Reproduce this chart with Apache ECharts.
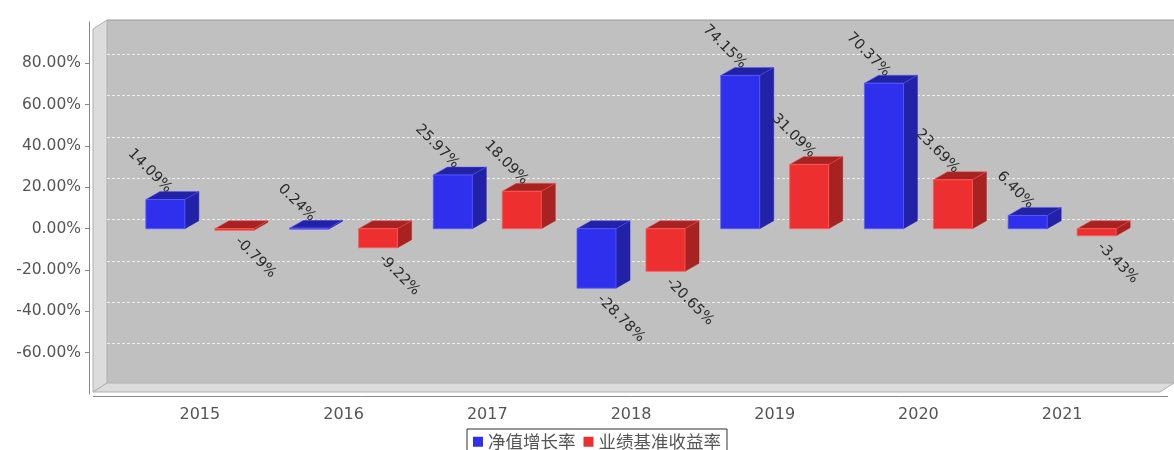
<!DOCTYPE html>
<html>
<head>
<meta charset="utf-8">
<script src="https://cdn.jsdelivr.net/npm/echarts@6/dist/echarts.min.js"></script>
<style>
  html, body { margin: 0; padding: 0; background: #fff; }
  #chart { width: 1174px; height: 450px; }
</style>
</head>
<body>
<div id="chart"></div>
<script>
  // 数据
  var years = ['2015', '2016', '2017', '2018', '2019', '2020', '2021'];
  var navGrowth = [14.09, 0.24, 25.97, -28.78, 74.15, 70.37, 6.40];      // 净值增长率
  var benchReturn = [-0.79, -9.22, 18.09, -20.65, 31.09, 23.69, -3.43];  // 业绩基准收益率
  var yTicks = [-60, -40, -20, 0, 20, 40, 60, 80];

  var seriesNames = ['净值增长率', '业绩基准收益率'];
  var frontColors = ['#2f2fee', '#ee2f2f'];
  var darkColors = ['#2222a8', '#a82222'];
  var edgeColors = ['#5a5aff', '#ff5a5a'];

  var DX = 14, DY = 8;
  var FONT = '14.5px "DejaVu Sans", sans-serif';

  function fmt(v) { return v.toFixed(2) + '%'; }

  function renderBar(params, api) {
    var s = params.seriesIndex;
    var idx = api.value(0), v = api.value(1);
    var base = api.coord([idx, 0]);
    var top = api.coord([idx, v]);
    var band = api.size([1, 0])[0];
    var w = band * 0.2715;
    var cx = base[0] + band * 0.24 * (s === 0 ? -1 : 1);
    var x0 = cx - w / 2, x1 = cx + w / 2;
    var yHi = Math.min(base[1], top[1]);
    var yLo = Math.max(base[1], top[1]);
    if (yLo - yHi < 1) yLo = yHi + 1;

    var label;
    if (v >= 0) {
      label = {
        type: 'text', x: cx + 4, y: yHi - 9, rotation: -Math.PI / 4,
        style: { text: fmt(v), align: 'right', verticalAlign: 'middle', fill: '#2a2a2a', font: FONT }
      };
    } else {
      label = {
        type: 'text', x: cx + 3, y: yLo + 9, rotation: -Math.PI / 4,
        style: { text: fmt(v), align: 'left', verticalAlign: 'middle', fill: '#2a2a2a', font: FONT }
      };
    }

    return {
      type: 'group',
      children: [
        {
          type: 'polygon',
          shape: { points: [[x1, yHi], [x1 + DX, yHi - DY], [x1 + DX, yLo - DY], [x1, yLo]] },
          style: { fill: darkColors[s], stroke: darkColors[s], lineWidth: 0.5 }
        },
        {
          type: 'polygon',
          shape: { points: [[x0, yHi], [x1, yHi], [x1 + DX, yHi - DY], [x0 + DX, yHi - DY]] },
          style: { fill: darkColors[s], stroke: edgeColors[s], lineWidth: 0.5 }
        },
        {
          type: 'rect',
          shape: { x: x0, y: yHi, width: w, height: yLo - yHi },
          style: { fill: frontColors[s], stroke: edgeColors[s], lineWidth: 0.8 }
        },
        label
      ]
    };
  }

  var chart = echarts.init(document.getElementById('chart'));

  var option = {
    animation: false,
    backgroundColor: '#fff',
    color: frontColors,
    grid: [
      { left: 128, right: 40, top: 22, bottom: 56 },
      { left: 107, right: 0, top: 13, bottom: 65 }
    ],
    legend: {
      data: seriesNames,
      left: 467, top: 429,
      icon: 'rect', itemWidth: 10, itemHeight: 10, itemGap: 8,
      padding: [4, 6], borderColor: '#333', borderWidth: 1,
      textStyle: { color: '#555', fontSize: 17.5, fontFamily: 'Noto Sans CJK SC' }
    },
    graphic: [
      { type: 'rect', z: -10, shape: { x: 107, y: 20, width: 1067, height: 363 }, style: { fill: '#c0c0c0' } },
      { type: 'polygon', z: -10, shape: { points: [[93, 29], [107, 20], [107, 383], [93, 392]] }, style: { fill: '#dcdcdc', stroke: '#b0b0b0', lineWidth: 1 } },
      { type: 'polygon', z: -10, shape: { points: [[93, 392], [107, 383], [1174, 383], [1160, 392]] }, style: { fill: '#dcdcdc', stroke: '#b0b0b0', lineWidth: 1 } },
      { type: 'line', z: -9, shape: { x1: 107, y1: 20, x2: 1174, y2: 20 }, style: { stroke: '#999', lineWidth: 1 } },
      { type: 'line', z: -9, shape: { x1: 93, y1: 396.5, x2: 1168, y2: 396.5 }, style: { stroke: '#888', lineWidth: 1 } }
    ],
    xAxis: [
      {
        type: 'category', gridIndex: 0, data: years, offset: 4,
        axisLine: { show: false },
        axisTick: { alignWithLabel: true, length: 3, lineStyle: { color: '#888' } },
        axisLabel: { color: '#555', fontSize: 16, fontFamily: 'DejaVu Sans', margin: 9 },
        splitLine: { show: false }
      },
      { type: 'value', gridIndex: 1, show: false, min: 0, max: 1 }
    ],
    yAxis: [
      {
        type: 'value', gridIndex: 0, min: -80, max: 100, interval: 20, offset: 39,
        axisLine: { show: true, lineStyle: { color: '#888' } },
        axisTick: { show: true, length: 4, customValues: yTicks, lineStyle: { color: '#888' } },
        axisLabel: {
          color: '#555', fontSize: 15.5, fontFamily: 'DejaVu Sans', margin: 8,
          customValues: yTicks,
          formatter: function (v) { return v.toFixed(2) + '%'; }
        },
        splitLine: { show: false }
      },
      {
        type: 'value', gridIndex: 1, min: -80, max: 100, interval: 20,
        axisLine: { show: false }, axisTick: { show: false }, axisLabel: { show: false },
        splitLine: { show: true, showMinLine: false, showMaxLine: false, lineStyle: { color: '#eeeeee', type: [3, 2], width: 1 } }
      }
    ],
    series: [
      {
        name: seriesNames[0], type: 'custom', xAxisIndex: 0, yAxisIndex: 0, clip: false,
        renderItem: renderBar,
        data: navGrowth.map(function (v, i) { return [i, v]; })
      },
      {
        name: seriesNames[1], type: 'custom', xAxisIndex: 0, yAxisIndex: 0, clip: false,
        renderItem: renderBar,
        data: benchReturn.map(function (v, i) { return [i, v]; })
      }
    ]
  };

  chart.setOption(option);
</script>
</body>
</html>
